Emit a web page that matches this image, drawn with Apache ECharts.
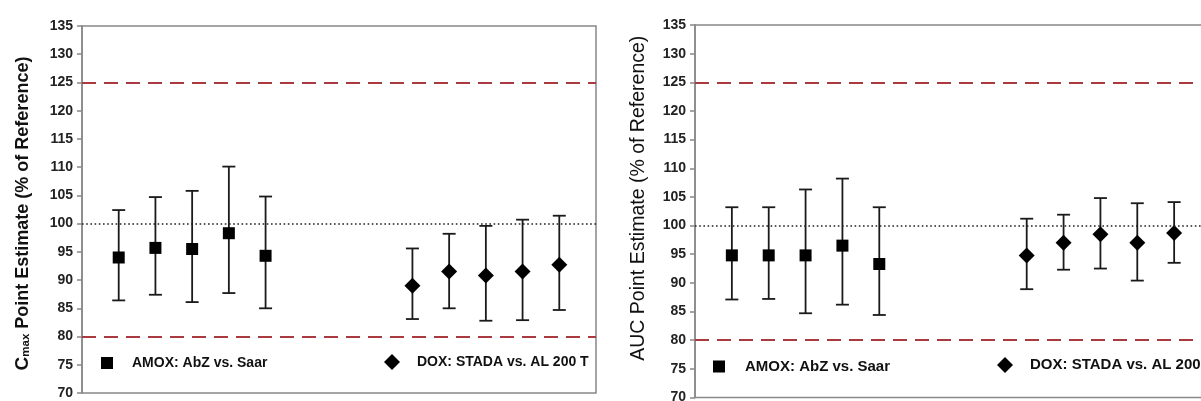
<!DOCTYPE html>
<html>
<head>
<meta charset="utf-8">
<script src="https://cdn.jsdelivr.net/npm/echarts@6/dist/echarts.min.js"></script>
<style>
html,body{margin:0;padding:0;background:#fff;}
#c{width:1201px;height:401px;}
</style>
</head>
<body>
<div id="c"></div>
<script>
// ---- data ----
const amoxName = 'AMOX: AbZ vs. Saar';
const doxName = 'DOX: STADA vs. AL 200 T';
const amoxSlots = [1, 2, 3, 4, 5];
const doxSlots = [9, 10, 11, 12, 13];
const yTicks = [70, 75, 80, 85, 90, 95, 100, 105, 110, 115, 120, 125, 130, 135];
const limitLines = [80, 125];
const referenceLine = 100;

const amoxCmax   = [94.0, 95.7, 95.5, 98.3, 94.3];
const amoxCmaxLo = [86.4, 87.4, 86.1, 87.7, 85.0];
const amoxCmaxHi = [102.4, 104.7, 105.8, 110.1, 104.8];
const doxCmax    = [89.0, 91.5, 90.8, 91.5, 92.7];
const doxCmaxLo  = [83.1, 85.0, 82.8, 82.9, 84.7];
const doxCmaxHi  = [95.6, 98.2, 99.6, 100.7, 101.4];

const amoxAuc   = [94.8, 94.8, 94.8, 96.5, 93.3];
const amoxAucLo = [87.1, 87.2, 84.7, 86.2, 84.4];
const amoxAucHi = [103.2, 103.2, 106.3, 108.2, 103.2];
const doxAuc    = [94.8, 97.0, 98.5, 97.0, 98.7];
const doxAucLo  = [88.9, 92.3, 92.5, 90.4, 93.5];
const doxAucHi  = [101.2, 101.9, 104.8, 103.9, 104.1];

// ---- helpers ----
const FONT = '"Liberation Sans", Arial, sans-serif';
const RED = '#a83a40';

function pts(slots, vals) { return slots.map((s, i) => [s, vals[i]]); }
function bars(slots, lo, hi) { return slots.map((s, i) => [s, lo[i], hi[i]]); }

function errorSeries(idx, data) {
  return {
    type: 'custom', xAxisIndex: idx, yAxisIndex: idx, silent: true, z: 2,
    data: data,
    renderItem: function (params, api) {
      const x = api.value(0);
      const a = api.coord([x, api.value(1)]);
      const b = api.coord([x, api.value(2)]);
      const hw = 6.5;
      const st = { stroke: '#1a1a1a', lineWidth: 1.8 };
      return {
        type: 'group',
        children: [
          { type: 'line', shape: { x1: a[0], y1: a[1], x2: b[0], y2: b[1] }, style: st },
          { type: 'line', shape: { x1: a[0] - hw, y1: a[1], x2: a[0] + hw, y2: a[1] }, style: st },
          { type: 'line', shape: { x1: b[0] - hw, y1: b[1], x2: b[0] + hw, y2: b[1] }, style: st }
        ]
      };
    }
  };
}

function refLines() {
  return {
    silent: true, symbol: 'none', label: { show: false },
    data: [
      { yAxis: limitLines[0], lineStyle: { color: RED, width: 2.2, type: [14, 8] } },
      { yAxis: limitLines[1], lineStyle: { color: RED, width: 2.2, type: [14, 8] } },
      { yAxis: referenceLine, lineStyle: { color: '#222', width: 1.6, type: [1.6, 2.6] } }
    ]
  };
}

function scatter(idx, name, symbol, size, data, withLines) {
  const s = {
    type: 'scatter', name: name, xAxisIndex: idx, yAxisIndex: idx,
    symbol: symbol, symbolSize: size, z: 3, silent: true,
    itemStyle: { color: '#000', opacity: 1 },
    data: data
  };
  if (withLines) s.markLine = refLines();
  return s;
}

function yAxis(idx, name, nameGap, nameStyle) {
  return {
    type: 'value', gridIndex: idx, min: yTicks[0], max: yTicks[yTicks.length - 1], interval: 5,
    splitLine: { show: false },
    axisLine: { show: true, lineStyle: { color: '#888', width: 1.5 } },
    axisTick: { show: true, length: 5, lineStyle: { color: '#888', width: 1.5 } },
    axisLabel: { color: '#222', fontSize: 14, fontWeight: 'bold', fontFamily: FONT, margin: 9 },
    name: name, nameLocation: 'middle', nameGap: nameGap, nameRotate: 90,
    nameTextStyle: nameStyle
  };
}

function xAxis(idx) {
  return { type: 'value', gridIndex: idx, min: 0, max: 14, show: false };
}

function legend(name, icon, left, top, size, fs, pad) {
  return {
    data: [name], icon: icon, left: left, top: top, itemWidth: size, itemHeight: size,
    selectedMode: false, padding: 0,
    itemStyle: { color: '#000', opacity: 1 },
    textStyle: { color: '#111', fontSize: fs, fontWeight: 'bold', fontFamily: FONT, padding: [0, 0, 0, pad] }
  };
}

const chart = echarts.init(document.getElementById('c'), null, { renderer: 'canvas' });
chart.setOption({
  animation: false,
  backgroundColor: '#fff',
  grid: [
    { left: 82, top: 26, width: 514, height: 367, show: true, borderColor: '#888', borderWidth: 1.5, backgroundColor: 'transparent', outerBoundsMode: 'none', containLabel: false },
    { left: 695, top: 25, width: 516, height: 372.5, show: true, borderColor: '#888', borderWidth: 1.5, backgroundColor: 'transparent', outerBoundsMode: 'none', containLabel: false }
  ],
  xAxis: [xAxis(0), xAxis(1)],
  yAxis: [
    yAxis(0, '{c|C}{s|max}{n| Point Estimate (% of Reference)}', 50, {
      padding: [0, 8, 0, 0],
      rich: {
        c: { fontSize: 19, fontWeight: 'bold', fontFamily: FONT, color: '#111', verticalAlign: 'bottom', lineHeight: 25 },
        s: { fontSize: 11.5, fontWeight: 'bold', fontFamily: FONT, color: '#111', verticalAlign: 'bottom', lineHeight: 20 },
        n: { fontSize: 18, fontWeight: 'bold', fontFamily: FONT, color: '#111', verticalAlign: 'bottom', lineHeight: 25 }
      }
    }),
    yAxis(1, 'AUC Point Estimate (% of Reference)', 46, { fontSize: 19.5, fontFamily: FONT, color: '#111', padding: [0, 0, 0, 26] })
  ],
  legend: [
    legend(amoxName, 'rect', 101, 356, 12, 14, 14),
    legend(doxName, 'diamond', 384, 354, 16, 14, 12),
    legend(amoxName, 'rect', 713, 359, 12, 15, 15),
    legend(doxName, 'diamond', 997, 357, 16, 15, 12)
  ],
  series: [
    errorSeries(0, bars(amoxSlots, amoxCmaxLo, amoxCmaxHi)),
    errorSeries(0, bars(doxSlots, doxCmaxLo, doxCmaxHi)),
    scatter(0, amoxName, 'rect', 12, pts(amoxSlots, amoxCmax), true),
    scatter(0, doxName, 'diamond', 16, pts(doxSlots, doxCmax), false),
    errorSeries(1, bars(amoxSlots, amoxAucLo, amoxAucHi)),
    errorSeries(1, bars(doxSlots, doxAucLo, doxAucHi)),
    scatter(1, amoxName, 'rect', 12, pts(amoxSlots, amoxAuc), true),
    scatter(1, doxName, 'diamond', 16, pts(doxSlots, doxAuc), false)
  ]
});
</script>
</body>
</html>
